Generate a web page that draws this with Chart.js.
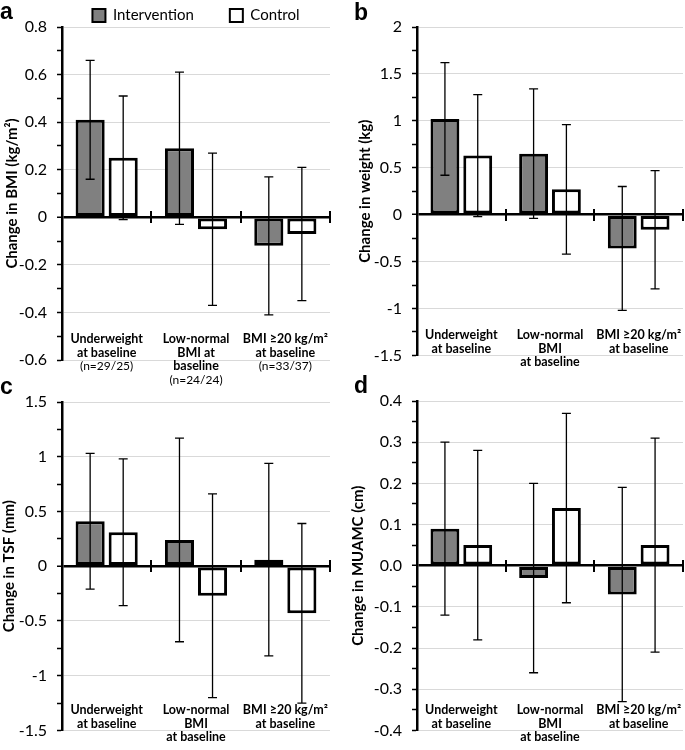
<!DOCTYPE html>
<html><head><meta charset="utf-8">
<script src="https://cdn.jsdelivr.net/npm/chart.js@4.4.0/dist/chart.umd.min.js"></script>
<style>
body{margin:0;background:#fff;width:685px;height:750px;position:relative;overflow:hidden}
.p{position:absolute}
.lt{position:absolute;font-family:'Liberation Sans',Arial,sans-serif;font-weight:bold;font-size:23px;line-height:23px;color:#000}
</style></head><body>
<div class="p" style="left:0;top:375px"><canvas id="cc" width="342" height="375"></canvas></div>
<div class="p" style="left:342px;top:375px"><canvas id="cd" width="343" height="375"></canvas></div>
<div class="p" style="left:0;top:0"><canvas id="ca" width="342" height="392"></canvas></div>
<div class="p" style="left:342px;top:0"><canvas id="cb" width="343" height="375"></canvas></div>
<div class="lt" style="left:0;top:0">a</div>
<div class="lt" style="left:354px;top:1px">b</div>
<div class="lt" style="left:0;top:375px">c</div>
<div class="lt" style="left:354px;top:374px">d</div>
<script>
// ---------- data ----------
const seriesNames = ["Intervention", "Control"];
const categoriesA = [["Underweight", "at baseline"], ["Low-normal", "BMI at", "baseline"], ["BMI \u226520 kg/m\u00B2", "at baseline"]];
const sampleSizesA = [[" ", " ", "(n=29/25)"], [" ", " ", " ", "(n=24/24)"], [" ", " ", "(n=33/37)"]];
const categoriesOther = [["Underweight", "at baseline"], ["Low-normal", "BMI", "at baseline"], ["BMI \u226520 kg/m\u00B2", "at baseline"]];

const bmiIntervention = [0.41, 0.29, -0.12];
const bmiInterventionLow = [0.16, -0.03, -0.41];
const bmiInterventionHigh = [0.66, 0.61, 0.17];
const bmiControl = [0.25, -0.05, -0.07];
const bmiControlLow = [-0.01, -0.37, -0.35];
const bmiControlHigh = [0.51, 0.27, 0.21];

const weightIntervention = [1.02, 0.65, -0.36];
const weightInterventionLow = [0.42, -0.04, -1.02];
const weightInterventionHigh = [1.62, 1.34, 0.30];
const weightControl = [0.63, 0.27, -0.16];
const weightControlLow = [-0.02, -0.42, -0.79];
const weightControlHigh = [1.28, 0.96, 0.47];

const tsfIntervention = [0.41, 0.24, 0.06];
const tsfInterventionLow = [-0.21, -0.69, -0.82];
const tsfInterventionHigh = [1.03, 1.17, 0.94];
const tsfControl = [0.31, -0.27, -0.43];
const tsfControlLow = [-0.36, -1.20, -1.25];
const tsfControlHigh = [0.98, 0.66, 0.39];

const muamcIntervention = [0.09, -0.03, -0.07];
const muamcInterventionLow = [-0.12, -0.26, -0.33];
const muamcInterventionHigh = [0.30, 0.20, 0.19];
const muamcControl = [0.05, 0.14, 0.05];
const muamcControlLow = [-0.18, -0.09, -0.21];
const muamcControlHigh = [0.28, 0.37, 0.31];

// axis ranges: [min, max, minor step]
const axisBmi = [-0.6, 0.8, 0.1];
const axisWeight = [-1.5, 2, 0.25];
const axisTsf = [-1.5, 1.5, 0.25];
const axisMuamc = [-0.4, 0.4, 0.05];
const titles = ["Change in BMI (kg/m\u00B2)", "Change in weight (kg)", "Change in TSF (mm)", "Change in MUAMC (cm)"];

// ---------- rendering ----------
const FONT = 'Lato';
Chart.defaults.font.family = FONT;
Chart.defaults.color = '#000';

const fmtGeneral = v => { const r = Math.round(v * 100) / 100; return String(Math.abs(r) < 1e-9 ? 0 : r); };
const fmtOne = v => (Math.abs(v) < 1e-9 ? 0 : v).toFixed(1);

const errorBars = {
  id: 'errorBars',
  afterDatasetsDraw(chart) {
    const ctx = chart.ctx, ys = chart.scales.y;
    ctx.save();
    ctx.strokeStyle = '#000';
    ctx.lineWidth = 1.3;
    chart.data.datasets.forEach((ds, i) => {
      const meta = chart.getDatasetMeta(i);
      meta.data.forEach((bar, j) => {
        const x = bar.x;
        const yl = ys.getPixelForValue(ds.errLow[j]);
        const yh = ys.getPixelForValue(ds.errHigh[j]);
        ctx.beginPath();
        ctx.moveTo(x, yl); ctx.lineTo(x, yh);
        ctx.moveTo(x - 4.5, yl); ctx.lineTo(x + 4.5, yl);
        ctx.moveTo(x - 4.5, yh); ctx.lineTo(x + 4.5, yh);
        ctx.stroke();
      });
    });
    ctx.restore();
  }
};

function buildChart(id, o) {
  const [min, max, step] = o.axis;
  const isMajor = v => Math.round((v - min) / step) % 2 === 0;
  const isZero = v => Math.abs(v) < step / 100;
  const labelValue = min + (max - min) * 0.082;
  const sepValue = (max - min) * 6 / 333;
  const labelFont = {family: FONT, size: 12.5, weight: 'bold', lineHeight: '13.5px'};
  const scales = {
    x: {
      type: 'category', axis: 'x', position: {y: labelValue}, offset: true,
      grid: {display: false, drawTicks: false}, border: {display: false},
      ticks: {padding: 0, maxRotation: 0, minRotation: 0, autoSkip: false, color: '#000', font: labelFont}
    },
    sep: {
      type: 'category', axis: 'x', position: {y: sepValue}, offset: true,
      grid: {display: true, offset: true, drawOnChartArea: false, drawTicks: true, tickLength: 12, color: '#000', lineWidth: 2},
      border: {display: false}, ticks: {display: false}
    },
    y: {
      type: 'linear', axis: 'y', position: 'left', min: min, max: max,
      afterFit: s => { s.width = o.axisX; },
      ticks: {stepSize: step, maxTicksLimit: 100, autoSkip: false, padding: 10, color: '#000',
        font: {family: FONT, size: 16},
        callback: v => isMajor(v) ? o.fmt(v) : ''},
      grid: {
        color: c => isZero(c.tick.value) ? '#000' : (isMajor(c.tick.value) ? '#d9d9d9' : 'rgba(0,0,0,0)'),
        lineWidth: c => isZero(c.tick.value) ? 2.5 : 1,
        tickColor: '#000', tickLength: 5, tickWidth: 1.5
      },
      border: {display: true, color: '#000', width: 2.5},
      title: {display: true, text: o.title, color: '#000', font: {family: FONT, size: 15, weight: 'bold'}, padding: {top: o.titlePad, bottom: 0}}
    }
  };
  if (o.nLabels) {
    scales.xn = {
      type: 'category', axis: 'x', position: {y: labelValue}, offset: true, labels: o.nLabels,
      grid: {display: false, drawTicks: false}, border: {display: false},
      ticks: {padding: 0, maxRotation: 0, minRotation: 0, autoSkip: false, color: '#000',
        font: {family: FONT, size: 12, weight: 'normal', lineHeight: '13.5px'}}
    };
  }
  const mk = (k, vals, lo, hi, fill) => ({
    label: seriesNames[k], data: vals, errLow: lo, errHigh: hi,
    backgroundColor: fill, borderColor: '#000', borderWidth: 3, borderSkipped: false,
    categoryPercentage: 0.74, barPercentage: 0.88
  });
  return new Chart(document.getElementById(id), {
    type: 'bar',
    data: {
      labels: o.labels,
      datasets: [mk(0, o.i, o.iLo, o.iHi, '#808080'), mk(1, o.c, o.cLo, o.cHi, '#ffffff')]
    },
    options: {
      responsive: false, animation: false, devicePixelRatio: 1,
      layout: {padding: o.pad},
      scales: scales,
      plugins: {
        tooltip: {enabled: false},
        legend: o.legend ? {
          display: true, position: 'top', fullSize: false, maxHeight: 25,
          labels: {boxWidth: 13, boxHeight: 13, padding: 6, color: '#000', font: {family: FONT, size: 15},
            generateLabels: ch => ch.data.datasets.map((ds, i) => ({
              text: i === 0 ? ds.label + '\u2003\u2003\u2002' : ds.label,
              fillStyle: ds.backgroundColor, strokeStyle: '#000', lineWidth: 2, hidden: false, datasetIndex: i
            }))}
        } : {display: false}
      }
    },
    plugins: [errorBars]
  });
}

buildChart('ca', {axis: axisBmi, title: titles[0], fmt: fmtGeneral, labels: categoriesA, nLabels: sampleSizesA,
  i: bmiIntervention, iLo: bmiInterventionLow, iHi: bmiInterventionHigh, c: bmiControl, cLo: bmiControlLow, cHi: bmiControlHigh,
  axisX: 62, titlePad: 3, legend: true, pad: {left: 0, top: 2, right: 12, bottom: 32}});
buildChart('cb', {axis: axisWeight, title: titles[1], fmt: fmtGeneral, labels: categoriesOther,
  i: weightIntervention, iLo: weightInterventionLow, iHi: weightInterventionHigh, c: weightControl, cLo: weightControlLow, cHi: weightControlHigh,
  axisX: 75, titlePad: 14, legend: false, pad: {left: 0, top: 27, right: 2, bottom: 15}});
buildChart('cc', {axis: axisTsf, title: titles[2], fmt: fmtGeneral, labels: categoriesOther,
  i: tsfIntervention, iLo: tsfInterventionLow, iHi: tsfInterventionHigh, c: tsfControl, cLo: tsfControlLow, cHi: tsfControlHigh,
  axisX: 62, titlePad: 0, legend: false, pad: {left: 0, top: 27, right: 12, bottom: 16}});
buildChart('cd', {axis: axisMuamc, title: titles[3], fmt: fmtOne, labels: categoriesOther,
  i: muamcIntervention, iLo: muamcInterventionLow, iHi: muamcInterventionHigh, c: muamcControl, cLo: muamcControlLow, cHi: muamcControlHigh,
  axisX: 75, titlePad: 7, legend: false, pad: {left: 0, top: 26, right: 2, bottom: 17}});
</script>
</body></html>
